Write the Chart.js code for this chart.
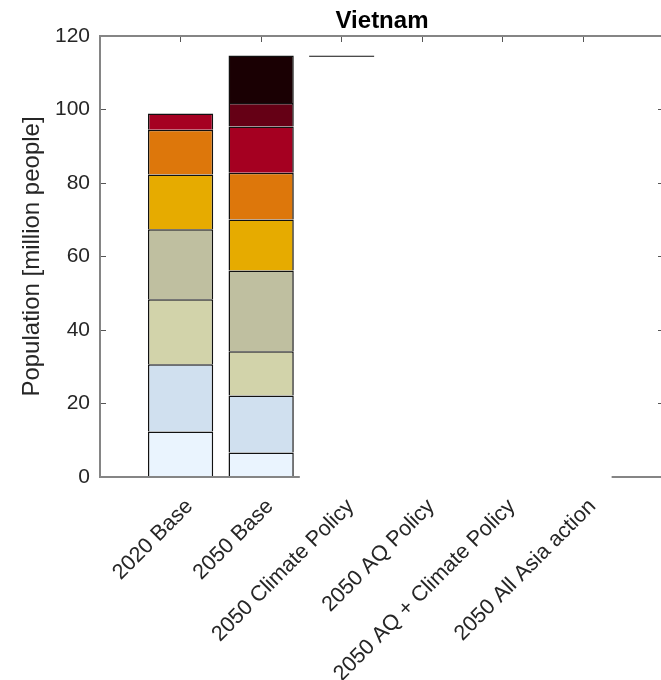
<!DOCTYPE html>
<html>
<head>
<meta charset="utf-8">
<script src="https://cdn.jsdelivr.net/npm/chart.js@4.4.1/dist/chart.umd.min.js"></script>
<style>
  html, body { margin: 0; padding: 0; background: #ffffff; }
  #wrap { width: 661px; height: 680px; overflow: hidden; position: relative; }
  canvas { display: block; }
</style>
</head>
<body>
<div id="wrap"><canvas id="chart" width="668" height="680" style="width:668px;height:680px"></canvas></div>
<script>
// Scenarios on the x axis (placed at 1..6 on a 0..7 axis)
const categories = ['2020 Base', '2050 Base', '2050 Climate Policy', '2050 AQ Policy',
                    '2050 AQ + Climate Policy', '2050 All Asia action'];
const categoryPositions = [1, 2, 3, 4, 5, 6];

// Population per band, million people (bottom band first)
const band1 = [12.4, 6.7, null, null, null, null];
const band2 = [18.3, 15.5, null, null, null, null];
const band3 = [17.7, 12.0, null, null, null, null];
const band4 = [19.0, 22.0, null, null, null, null];
const band5 = [14.9, 13.9, null, null, null, null];
const band6 = [12.2, 12.7, null, null, null, null];
const band7 = [4.4, 12.6, null, null, null, null];
const band8 = [0, 6.4, null, null, null, null];
const band9 = [0, 12.9, null, null, null, null];

// Total population level marked for the climate policy scenario
const climatePolicyTotal = [null, null, 114.7, null, null, null];

// Y axis range and step
const yMin = 0;
const yMax = 120;
const yStep = 20;

// Visible stretches of the bottom axis line, in x-axis units
const baselineSpans = [[0, 2.48], [6.35, 7]];

const bandColors = ['#EAF4FE', '#D0E0EF', '#D2D3AA', '#BFBFA0', '#E6AB00',
                    '#DD770B', '#A50021', '#650015', '#1A0003'];
const bands = [band1, band2, band3, band4, band5, band6, band7, band8, band9];

const axisGray = '#858585';
const tickGray = '#555555';
const textGray = '#262626';

Chart.defaults.font.family = "'Liberation Sans', Arial, Helvetica, sans-serif";

function toPoints(values) {
  return values
    .map((v, i) => ({ x: categoryPositions[i], y: v }))
    .filter(p => p.y !== null);
}

const datasets = bands.map((values, k) => ({
  label: 'Band ' + (k + 1),
  data: toPoints(values),
  backgroundColor: bandColors[k],
  borderColor: '#111111',
  borderWidth: 1.5,
  xAxisID: 'x',
  yAxisID: 'y',
  stack: 'population',
  barPercentage: 0.81,
  categoryPercentage: 1.0
}));

datasets.push({
  label: 'Climate policy total',
  data: toPoints(climatePolicyTotal),
  backgroundColor: 'rgba(0,0,0,0)',
  borderColor: '#111111',
  borderWidth: { top: 1.3, left: 0, right: 0, bottom: 0 },
  xAxisID: 'x',
  yAxisID: 'y',
  stack: 'marker',
  grouped: false,
  barPercentage: 0.81,
  categoryPercentage: 1.0
});

const setCategoryTicks = (scale) => {
  scale.ticks = categoryPositions.map(v => ({ value: v }));
};

const baselinePlugin = {
  id: 'baseline',
  afterDatasetsDraw(chart) {
    const { ctx, scales: { x, y } } = chart;
    const py = Math.round(y.getPixelForValue(0));
    ctx.save();
    ctx.strokeStyle = axisGray;
    ctx.lineWidth = 2;
    baselineSpans.forEach(([a, b]) => {
      ctx.beginPath();
      ctx.moveTo(x.getPixelForValue(a), py);
      ctx.lineTo(x.getPixelForValue(b), py);
      ctx.stroke();
    });
    ctx.restore();
  }
};

new Chart(document.getElementById('chart'), {
  type: 'bar',
  data: { datasets },
  plugins: [baselinePlugin],
  options: {
    responsive: false,
    animation: false,
    devicePixelRatio: 1,
    events: [],
    layout: { padding: 0 },
    plugins: {
      legend: { display: false },
      tooltip: { enabled: false },
      title: { display: false }
    },
    scales: {
      y: {
        type: 'linear',
        position: 'left',
        min: yMin,
        max: yMax,
        stacked: true,
        afterFit: (s) => { s.width = 100; },
        ticks: { stepSize: yStep, padding: 16, color: textGray, font: { size: 21 } },
        grid: { drawOnChartArea: false, tickLength: -6, color: tickGray, lineWidth: 1 },
        border: { display: true, color: axisGray, width: 2 },
        title: {
          display: true,
          text: 'Population [million people]',
          color: textGray,
          font: { size: 24 },
          padding: { top: 18, bottom: 0 }
        }
      },
      x: {
        type: 'linear',
        position: 'bottom',
        min: 0,
        max: 7,
        offset: false,
        stacked: true,
        afterBuildTicks: setCategoryTicks,
        afterFit: (s) => { s.height = 203; },
        grid: { display: false, offset: false },
        border: { display: false },
        ticks: {
          autoSkip: false,
          minRotation: 45,
          maxRotation: 45,
          labelOffset: 9,
          padding: 9,
          color: textGray,
          font: { size: 21.6 },
          callback: (v) => categories[categoryPositions.indexOf(v)]
        }
      },
      x2: {
        type: 'linear',
        position: 'top',
        min: 0,
        max: 7,
        offset: false,
        afterBuildTicks: setCategoryTicks,
        afterFit: (s) => { s.height = 36; },
        grid: { drawOnChartArea: false, offset: false, tickLength: -6, color: tickGray, lineWidth: 1 },
        border: { display: true, color: axisGray, width: 2 },
        ticks: { display: false },
        title: {
          display: true,
          text: 'Vietnam',
          color: '#000000',
          font: { size: 24, weight: 'bold' },
          padding: { top: 7, bottom: 0 }
        }
      },
      y2: {
        type: 'linear',
        position: 'right',
        min: yMin,
        max: yMax,
        afterFit: (s) => { s.width = 4; },
        ticks: { display: false, stepSize: yStep },
        grid: { drawOnChartArea: false, tickLength: -6, color: tickGray, lineWidth: 1 },
        border: { display: false }
      }
    }
  }
});
</script>
</body>
</html>
